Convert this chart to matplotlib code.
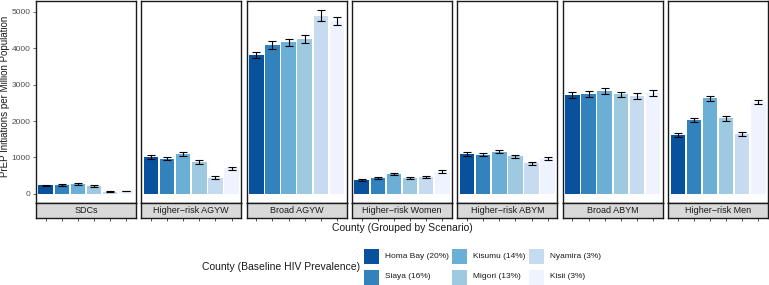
import numpy as np
import matplotlib
matplotlib.use('Agg')
import matplotlib.pyplot as plt
from matplotlib.patches import Rectangle

plt.rcParams['font.family'] = ['Liberation Sans', 'DejaVu Sans']

scenarios = ['SDCs', 'Higher\u2212risk AGYW', 'Broad AGYW', 'Higher\u2212risk Women',
             'Higher\u2212risk ABYM', 'Broad ABYM', 'Higher\u2212risk Men']
counties = ['Homa Bay (20%)', 'Siaya (16%)', 'Kisumu (14%)', 'Migori (13%)',
            'Nyamira (3%)', 'Kisii (3%)']
colors = ['#08519C', '#3182BD', '#6BAED6', '#9ECAE1', '#C6DBEF', '#EFF3FF']

# PrEP initiations per million, rows = scenario, cols = county
values = [
    [230, 245, 270, 215, 55, 75],
    [1010, 960, 1090, 870, 440, 700],
    [3820, 4090, 4160, 4250, 4900, 4760],
    [370, 430, 540, 440, 460, 610],
    [1090, 1070, 1150, 1030, 840, 970],
    [2720, 2750, 2830, 2730, 2680, 2780],
    [1620, 2020, 2630, 2070, 1640, 2530],
]
errors = [
    [20, 20, 22, 18, 12, 12],
    [50, 45, 50, 45, 40, 35],
    [90, 100, 100, 110, 140, 110],
    [25, 30, 30, 30, 30, 30],
    [45, 45, 40, 40, 40, 40],
    [80, 80, 80, 80, 80, 80],
    [55, 60, 70, 60, 55, 55],
]

W, H = 769, 285
fig = plt.figure(figsize=(W / 100, H / 100), dpi=100)

def box(x0, y0, x1, y1):
    # pixel coords (top-left origin) -> figure fraction
    return [x0 / W, 1 - y1 / H, (x1 - x0) / W, (y1 - y0) / H]

left, right = 36, 768
gap = 5.5
pw = (right - left - 6 * gap) / 7
ptop, pbot, sbot = 1, 203, 218
x = np.arange(1, 7)

for i, sc in enumerate(scenarios):
    x0 = left + i * (pw + gap)
    ax = fig.add_axes(box(x0, ptop, x0 + pw, pbot))
    ax.bar(x, values[i], width=0.9, color=colors, zorder=2)
    ax.errorbar(x, values[i], yerr=errors[i], fmt='none', ecolor='black',
                elinewidth=0.8, capsize=3, capthick=0.8, zorder=3)
    ax.set_xlim(0.4, 6.6)
    ax.set_ylim(-255, 5300)
    ax.set_xticks([])
    for s in ax.spines.values():
        s.set_linewidth(1.0)
        s.set_color('#1a1a1a')
    if i == 0:
        ax.set_yticks([0, 1000, 2000, 3000, 4000, 5000])
        ax.tick_params(axis='y', labelsize=6.0, length=2.5, width=0.6,
                       colors='#4d4d4d', pad=1.5)
    else:
        ax.set_yticks([])
    # strip below panel
    sax = fig.add_axes(box(x0, pbot, x0 + pw, sbot))
    sax.set_facecolor('#D9D9D9')
    sax.set_xlim(0.4, 6.6)
    sax.set_ylim(0, 1)
    sax.set_xticks(x)
    sax.set_xticklabels([])
    sax.set_yticks([])
    sax.tick_params(axis='x', length=2.5, width=0.6, colors='#333333')
    for s in sax.spines.values():
        s.set_linewidth(1.0)
        s.set_color('#1a1a1a')
    sax.text(3.5, 0.5, sc, ha='center', va='center', fontsize=6.5, color='#1a1a1a')

fig.text(5.5 / W, 1 - 96 / H, 'PrEP Initiations per Million Population',
         rotation=90, ha='center', va='center', fontsize=7.0, color='#1a1a1a')
fig.text((left + right) / 2 / W, 1 - 228 / H, 'County (Grouped by Scenario)',
         ha='center', va='center', fontsize=7.5, color='#1a1a1a')

# legend drawn manually to follow ggplot layout
fig.text(281 / W, 1 - 267 / H, 'County (Baseline HIV Prevalence)', ha='center',
         va='center', fontsize=7.5, color='#1a1a1a')
key_x = [364, 452, 529]
lab_x = [385, 473, 550]
rows_y = [256, 277]
k = 15
for j, name in enumerate(counties):
    c, r = j // 2, j % 2
    fig.patches.append(Rectangle((key_x[c] / W, 1 - (rows_y[r] + k / 2) / H),
                                 k / W, k / H, transform=fig.transFigure,
                                 facecolor=colors[j], edgecolor='none'))
    fig.text(lab_x[c] / W, 1 - rows_y[r] / H, name, ha='left', va='center',
             fontsize=6.0, color='#1a1a1a')

fig.savefig('out.png', dpi=100)
